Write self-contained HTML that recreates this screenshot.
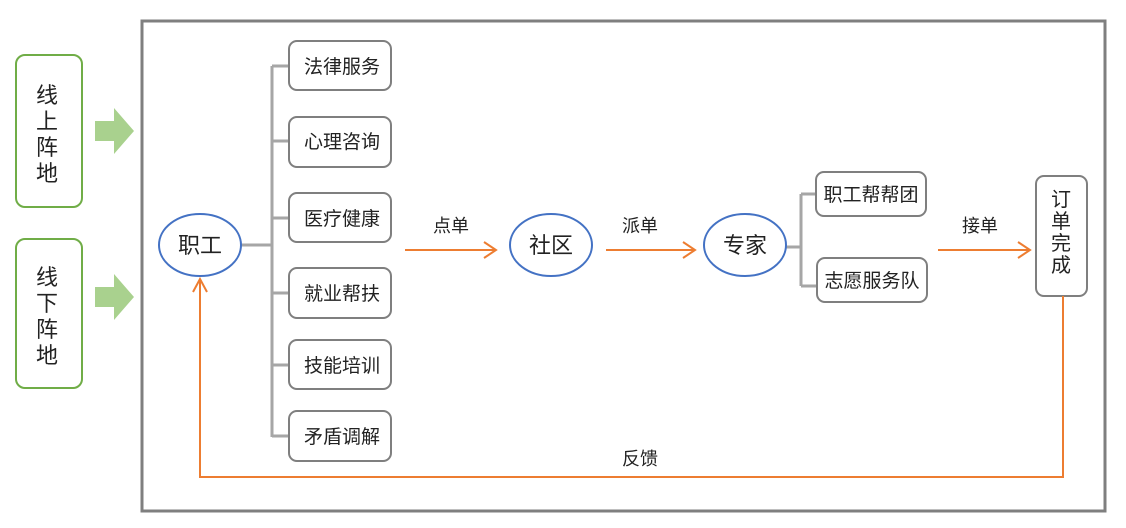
<!DOCTYPE html>
<html><head><meta charset="utf-8"><style>
html,body{margin:0;padding:0;background:#fff;width:1126px;height:528px;overflow:hidden}
text{font-family:"Liberation Sans","Noto Sans CJK SC",sans-serif;fill:#222}
</style></head><body>
<svg width="1126" height="528" viewBox="0 0 1126 528" xmlns="http://www.w3.org/2000/svg">
<rect x="142" y="21" width="963" height="490" fill="none" stroke="#7f7f7f" stroke-width="3"/>
<!-- green boxes -->
<rect x="16" y="55" width="66" height="152" rx="9" fill="#fff" stroke="#70ad47" stroke-width="2"/>
<rect x="16" y="239" width="66" height="149" rx="9" fill="#fff" stroke="#70ad47" stroke-width="2"/>
<g font-size="22" text-anchor="middle">
<text x="47" y="103">线</text><text x="47" y="129">上</text><text x="47" y="155">阵</text><text x="47" y="181">地</text>
<text x="47" y="285">线</text><text x="47" y="311">下</text><text x="47" y="337">阵</text><text x="47" y="363">地</text>
</g>
<polygon points="95,121 114,121 114,108 134,131 114,154 114,141 95,141" fill="#a9d18e"/>
<polygon points="95,287 114,287 114,274 134,297 114,320 114,307 95,307" fill="#a9d18e"/>
<!-- gray tree -->
<g stroke="#a6a6a6" stroke-width="3" fill="none">
<line x1="241" y1="245" x2="272" y2="245"/>
<line x1="272" y1="66" x2="272" y2="437"/>
<line x1="272" y1="66" x2="289" y2="66"/>
<line x1="272" y1="141" x2="289" y2="141"/>
<line x1="272" y1="218" x2="289" y2="218"/>
<line x1="272" y1="293" x2="289" y2="293"/>
<line x1="272" y1="365" x2="289" y2="365"/>
<line x1="272" y1="436" x2="289" y2="436"/>
<line x1="786" y1="247" x2="801" y2="247"/>
<line x1="801" y1="194" x2="801" y2="286"/>
<line x1="801" y1="194" x2="816" y2="194"/>
<line x1="801" y1="286" x2="816" y2="286"/>
</g>
<g fill="#fff" stroke="#7f7f7f" stroke-width="2">
<rect x="289" y="41" width="102" height="49" rx="8"/>
<rect x="289" y="117" width="102" height="50" rx="8"/>
<rect x="289" y="193" width="102" height="49" rx="8"/>
<rect x="289" y="268" width="102" height="50" rx="8"/>
<rect x="289" y="340" width="102" height="49" rx="8"/>
<rect x="289" y="411" width="102" height="50" rx="8"/>
<rect x="816" y="172" width="110" height="44" rx="8"/>
<rect x="817" y="258" width="110" height="44" rx="8"/>
<rect x="1036" y="176" width="51" height="120" rx="8"/>
</g>
<g font-size="19" text-anchor="middle">
<text x="342" y="73">法律服务</text>
<text x="342" y="148">心理咨询</text>
<text x="342" y="225">医疗健康</text>
<text x="342" y="300">就业帮扶</text>
<text x="342" y="372">技能培训</text>
<text x="342" y="443">矛盾调解</text>
<text x="871" y="201">职工帮帮团</text>
<text x="872" y="287">志愿服务队</text>
</g>
<g font-size="20" text-anchor="middle">
<text x="1061" y="206">订</text><text x="1061" y="228">单</text><text x="1061" y="250">完</text><text x="1061" y="272">成</text>
</g>
<!-- ellipses -->
<g fill="#fff" stroke="#4472c4" stroke-width="2">
<ellipse cx="200" cy="245" rx="41" ry="31"/>
<ellipse cx="551" cy="245" rx="41" ry="31"/>
<ellipse cx="745" cy="245" rx="41" ry="31"/>
</g>
<g font-size="22" text-anchor="middle">
<text x="200" y="253">职工</text>
<text x="551" y="253">社区</text>
<text x="745" y="253">专家</text>
</g>
<!-- orange arrows -->
<g stroke="#ed7d31" stroke-width="2" fill="none">
<line x1="405" y1="250" x2="496" y2="250"/><polyline points="484,242 496,250 484,258"/>
<line x1="606" y1="250" x2="695" y2="250"/><polyline points="683,242 695,250 683,258"/>
<line x1="938" y1="250" x2="1030" y2="250"/><polyline points="1018,242 1030,250 1018,258"/>
<polyline points="1063,296 1063,477 200,477 200,279"/>
<polyline points="193,292 200,279 207,292"/>
</g>
<g font-size="18" text-anchor="middle">
<text x="451" y="232">点单</text>
<text x="640" y="232">派单</text>
<text x="980" y="232">接单</text>
<text x="640" y="465">反馈</text>
</g>
</svg>
</body></html>
